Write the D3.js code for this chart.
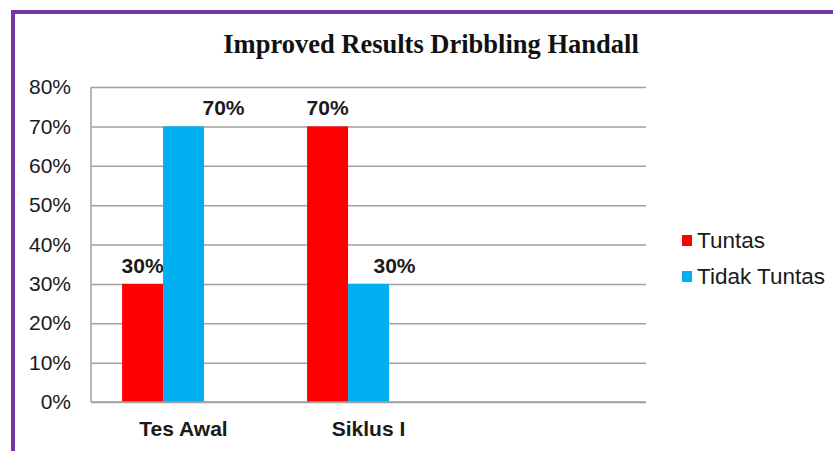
<!DOCTYPE html>
<html>
<head>
<meta charset="utf-8">
<script src="https://cdn.jsdelivr.net/npm/d3@7"></script>
<style>
  body { margin: 0; background: #fff; }
  svg { display: block; }
</style>
</head>
<body>
<div id="chart"></div>
<script>
// data
const categories = ["Tes Awal", "Siklus I", ""];
const seriesNames = ["Tuntas", "Tidak Tuntas"];
const tuntas = [0.30, 0.70, null];
const tidakTuntas = [0.70, 0.30, null];
const yTicks = [0, 0.1, 0.2, 0.3, 0.4, 0.5, 0.6, 0.7, 0.8];
const colors = ["#ff0000", "#00b0f0"];
// excel pushes some labels sideways, shift per series/category
const labelShift = [[0, 0], [40, 26]];

const width = 833, height = 451;
const plot = { left: 91, right: 646, top: 87, bottom: 402 };

let svg = d3.select("#chart").append("svg")
  .attr("width", width)
  .attr("height", height);

// purple frame, runs off the right and bottom edge
svg.append("rect")
  .attr("x", 13).attr("y", 12)
  .attr("width", width).attr("height", height)
  .attr("fill", "none")
  .attr("stroke", "#7636a8")
  .attr("stroke-width", 4);

svg.append("text")
  .attr("x", 431).attr("y", 53)
  .attr("text-anchor", "middle")
  .attr("font-family", "Liberation Serif, Times New Roman, serif")
  .attr("font-weight", "bold")
  .attr("font-size", 26.5)
  .attr("fill", "#111")
  .text("Improved Results Dribbling Handall");

let y = d3.scaleLinear()
  .domain([0, 0.8])
  .range([plot.bottom, plot.top]);

let x = d3.scaleBand()
  .domain(categories)
  .range([plot.left, plot.right]);

let xSub = d3.scaleBand()
  .domain(d3.range(seriesNames.length))
  .range([x.bandwidth() * 0.168, x.bandwidth() * 0.611]);

// gridlines + labels
let yAxis = d3.axisLeft(y)
  .tickValues(yTicks)
  .tickFormat(d3.format(".0%"))
  .tickSize(-(plot.right - plot.left))
  .tickPadding(20);

let gy = svg.append("g")
  .attr("transform", `translate(${plot.left},0)`)
  .call(yAxis);

gy.select(".domain").attr("stroke", "#a0a0a0").attr("stroke-width", 1.5)
  .attr("d", `M0,${plot.top}V${plot.bottom}`);
gy.selectAll(".tick line").attr("stroke", "#a0a0a0").attr("stroke-width", 1.5);
gy.selectAll(".tick text")
  .attr("font-family", "Liberation Sans, Arial, sans-serif")
  .attr("font-size", 21)
  .attr("fill", "#1a1a1a");

let rows = seriesNames.map((name, s) => ({
  name: name,
  values: s === 0 ? tuntas : tidakTuntas
}));

let groups = svg.selectAll("g.series")
  .data(rows)
  .enter()
  .append("g")
  .attr("class", "series")
  .attr("fill", (d, s) => colors[s]);

groups.each(function(row, s) {
  let pts = categories.map((c, i) => ({ cat: c, v: row.values[i], i: i }))
    .filter(p => p.v != null);

  d3.select(this).selectAll("rect")
    .data(pts)
    .enter()
    .append("rect")
    .attr("x", p => x(p.cat) + xSub(s))
    .attr("y", p => y(p.v))
    .attr("width", xSub.bandwidth())
    .attr("height", p => y(0) - y(p.v));

  d3.select(this).selectAll("text")
    .data(pts)
    .enter()
    .append("text")
    .attr("x", p => x(p.cat) + xSub(s) + xSub.bandwidth() / 2 + labelShift[s][p.i])
    .attr("y", p => y(p.v) - 11)
    .attr("text-anchor", "middle")
    .attr("font-family", "Liberation Sans, Arial, sans-serif")
    .attr("font-weight", "bold")
    .attr("font-size", 21)
    .attr("fill", "#1a1a1a")
    .text(p => d3.format(".0%")(p.v));
});

// bottom axis line drawn over the bars
svg.append("line")
  .attr("x1", plot.left).attr("x2", plot.right)
  .attr("y1", plot.bottom).attr("y2", plot.bottom)
  .attr("stroke", "#a0a0a0").attr("stroke-width", 1.5);

svg.selectAll("text.cat")
  .data(categories)
  .enter()
  .append("text")
  .attr("class", "cat")
  .attr("x", d => x(d) + x.bandwidth() / 2)
  .attr("y", 436)
  .attr("text-anchor", "middle")
  .attr("font-family", "Liberation Sans, Arial, sans-serif")
  .attr("font-weight", "bold")
  .attr("font-size", 21)
  .attr("fill", "#1a1a1a")
  .text(d => d);

let legend = svg.selectAll("g.legend")
  .data(seriesNames)
  .enter()
  .append("g")
  .attr("class", "legend")
  .attr("transform", (d, i) => `translate(682, ${240 + i * 36})`);

legend.append("rect")
  .attr("x", 0).attr("y", -5)
  .attr("width", 10).attr("height", 11)
  .attr("fill", (d, i) => colors[i]);

legend.append("text")
  .attr("x", 15)
  .attr("dy", "0.35em")
  .attr("font-family", "Liberation Sans, Arial, sans-serif")
  .attr("font-size", 22.5)
  .attr("fill", "#1a1a1a")
  .text(d => d);
</script>
</body>
</html>
